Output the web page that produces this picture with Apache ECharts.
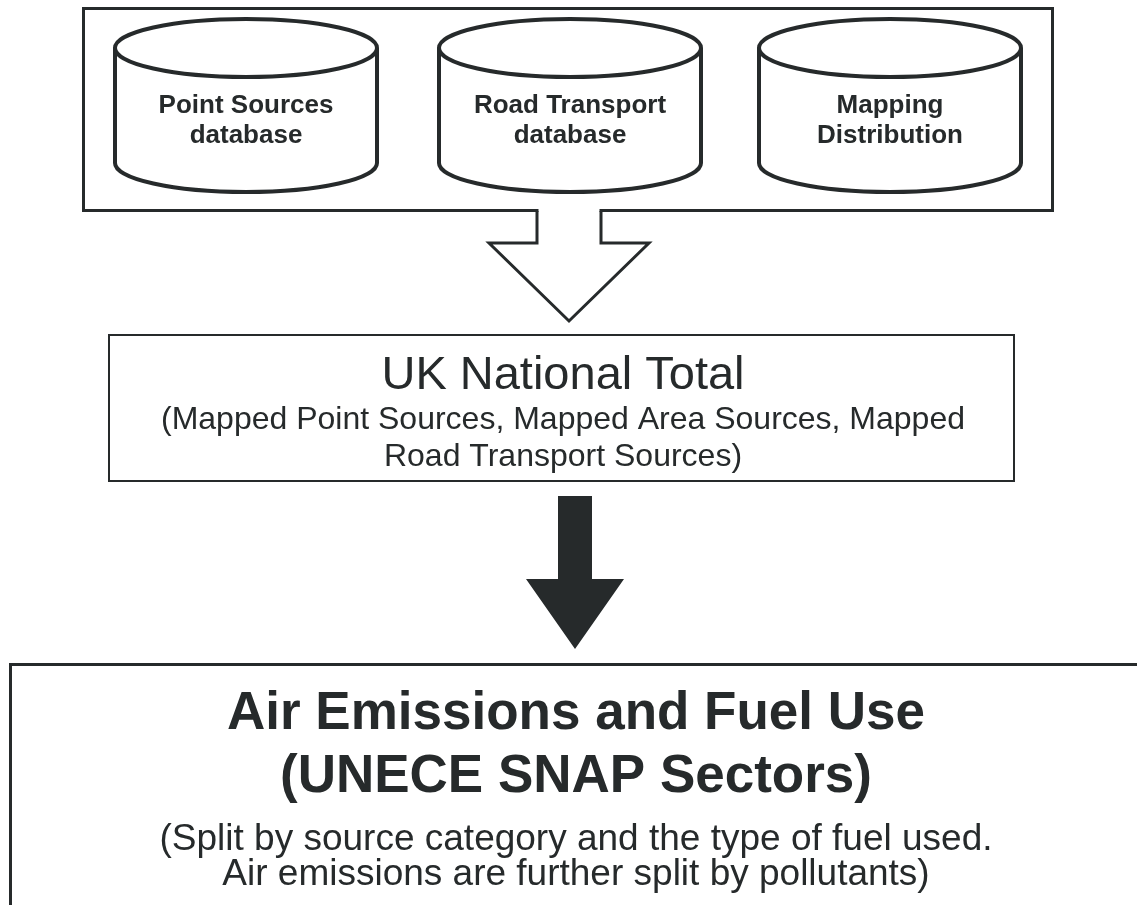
<!DOCTYPE html>
<html>
<head>
<meta charset="utf-8">
<title>UK emissions mapping flow</title>
<script src="https://cdn.jsdelivr.net/npm/echarts@6/dist/echarts.min.js"></script>
<style>
  html, body { margin: 0; padding: 0; background: #fff; }
  #main { width: 1137px; height: 905px; }
</style>
</head>
<body>
<div id="main"></div>
<script>
// texts of the diagram
const sourceNames = ['Point Sources', 'Road Transport', 'Mapping']
const sourceSubNames = ['database', 'database', 'Distribution']
const totalTitle = ['UK National Total']
const totalNotes = ['(Mapped Point Sources, Mapped Area Sources, Mapped', 'Road Transport Sources)']
const outputTitle = ['Air Emissions and Fuel Use', '(UNECE SNAP Sectors)']
const outputNotes = ['(Split by source category and the type of fuel used.', 'Air emissions are further split by pollutants)']

// layout, in pixels of the 1137 x 905 canvas
const ink = '#262a2b'
const fontFamily = '"Liberation Sans", Arial, sans-serif'
const frames = [
  { x0: 83.5, y0: 8.5, x1: 1052.5, y1: 210.5, lw: 3 },   // input databases
  { x0: 109, y0: 335, x1: 1014, y1: 481, lw: 2 },        // national total
  { x0: 10.5, y0: 664.5, x1: 1200, y1: 1000, lw: 3 }     // output (runs off the page)
]
const cylCentre = [246, 570, 890]
const cylRx = 131, cylRy = 29, cylTop = 48, cylBottom = 163
const cylTextY = [106, 136]
const hollowArrow = [[537, 211], [537, 243], [489, 243], [569, 321], [649, 243], [601, 243], [601, 211]]
const solidArrow = [[558, 496], [592, 496], [592, 579], [624, 579], [575, 649], [526, 579], [558, 579]]
const textBlocks = [
  { lines: totalTitle, x: 563, ys: [376], font: 'normal 47px ' + fontFamily },
  { lines: totalNotes, x: 563, ys: [420, 457], font: 'normal 32px ' + fontFamily },
  { lines: outputTitle, x: 576, ys: [714, 777], font: 'bold 53px ' + fontFamily },
  { lines: outputNotes, x: 576, ys: [840, 875], font: 'normal 37px ' + fontFamily }
]

const chart = echarts.init(document.getElementById('main'))

function pt (api, x, y) {
  return api.coord([x, y])
}

function renderFrame (params, api) {
  const f = frames[params.dataIndex]
  const a = pt(api, f.x0, f.y0)
  const b = pt(api, f.x1, f.y1)
  return {
    type: 'rect',
    shape: { x: a[0], y: a[1], width: b[0] - a[0], height: b[1] - a[1] },
    style: { fill: '#fff', stroke: ink, lineWidth: f.lw }
  }
}

function renderCylinder (params, api) {
  const i = params.dataIndex
  const cx = cylCentre[i]
  const tl = pt(api, cx - cylRx, cylTop)
  const br = pt(api, cx + cylRx, cylBottom)
  const l = tl[0], ty = tl[1], r = br[0], by = br[1]
  const rx = (r - l) / 2
  const d = `M${l} ${ty} A${rx} ${cylRy} 0 1 1 ${r} ${ty} A${rx} ${cylRy} 0 1 1 ${l} ${ty} ` +
    `M${l} ${ty} L${l} ${by} A${rx} ${cylRy} 0 0 0 ${r} ${by} L${r} ${ty}`
  const mid = pt(api, cx, 0)[0]
  const label = (text, y) => ({
    type: 'text',
    x: mid,
    y: pt(api, 0, y)[1],
    style: { text: text, font: 'bold 26px ' + fontFamily, fill: ink, align: 'center', verticalAlign: 'middle' }
  })
  return {
    type: 'group',
    children: [
      { type: 'path', shape: { pathData: d }, style: { fill: '#fff', stroke: ink, lineWidth: 4 } },
      label(sourceNames[i], cylTextY[0]),
      label(sourceSubNames[i], cylTextY[1])
    ]
  }
}

function renderArrows (params, api) {
  const hollow = hollowArrow.map(p => pt(api, p[0], p[1]))
  const solid = solidArrow.map(p => pt(api, p[0], p[1]))
  const gapA = pt(api, hollowArrow[0][0] + 1.5, 206)
  const gapB = pt(api, hollowArrow[6][0] - 1.5, 216)
  return {
    type: 'group',
    children: [
      // open the bottom edge of the frame where the big arrow leaves it
      { type: 'rect', shape: { x: gapA[0], y: gapA[1], width: gapB[0] - gapA[0], height: gapB[1] - gapA[1] }, style: { fill: '#fff' } },
      { type: 'polyline', shape: { points: hollow }, style: { fill: 'none', stroke: ink, lineWidth: 3, lineJoin: 'miter' } },
      { type: 'polygon', shape: { points: solid }, style: { fill: ink } }
    ]
  }
}

function renderText (params, api) {
  const blk = textBlocks[params.seriesIndex - 3]
  const i = params.dataIndex
  const p = pt(api, blk.x, blk.ys[i])
  return {
    type: 'text',
    x: p[0],
    y: p[1],
    style: { text: blk.lines[i], font: blk.font, fill: ink, align: 'center', verticalAlign: 'middle' }
  }
}

const textSeries = textBlocks.map(blk => ({
  type: 'custom',
  renderItem: renderText,
  data: blk.lines.map((t, i) => [i, i])
}))

chart.setOption({
  animation: false,
  backgroundColor: '#fff',
  grid: { left: 0, right: 0, top: 0, bottom: 0 },
  xAxis: { type: 'value', min: 0, max: 1137, show: false },
  yAxis: { type: 'value', min: 0, max: 905, inverse: true, show: false },
  series: [
    { type: 'custom', renderItem: renderFrame, data: frames.map((f, i) => [i, i]) },
    { type: 'custom', renderItem: renderArrows, data: [[0, 0]] },
    { type: 'custom', renderItem: renderCylinder, data: sourceNames.map((n, i) => [i, i]) }
  ].concat(textSeries)
})

window.onresize = function () {
  chart.resize()
}
</script>
</body>
</html>
